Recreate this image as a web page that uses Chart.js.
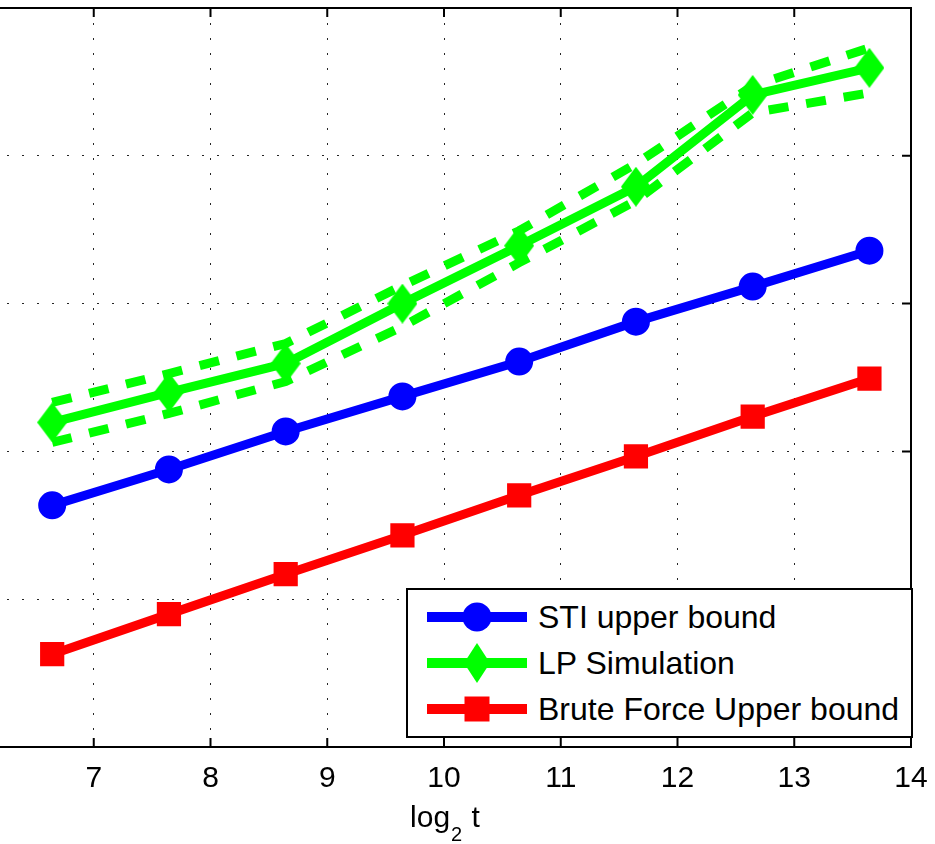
<!DOCTYPE html>
<html>
<head>
<meta charset="utf-8">
<script src="https://cdn.jsdelivr.net/npm/chart.js@4.4.1/dist/chart.umd.min.js"></script>
<style>
  html,body{margin:0;padding:0;background:#fff;overflow:hidden;width:935px;height:844px;}
  #wrap{position:absolute;left:-23px;top:0;width:958px;height:844px;}
  #legend{position:absolute;left:406px;top:588px;width:503px;height:146px;border:2px solid #000;background:#fff;
    font-family:"Liberation Sans",Arial,sans-serif;font-size:32px;color:#000;}
  .row{position:absolute;left:0;height:46px;width:100%;}
  .row canvas{position:absolute;left:0;top:0;}
  .row span{position:absolute;left:130px;top:4px;line-height:38px;white-space:nowrap;}
</style>
</head>
<body>
<div id="wrap"><canvas id="c" width="958" height="844"></canvas></div>
<div id="legend"></div>
<script>
// ---- data ----
const xValues = [6.644, 7.644, 8.644, 9.644, 10.644, 11.644, 12.644, 13.644];
const stiUpper = [1.635, 1.878, 2.135, 2.372, 2.608, 2.878, 3.115, 3.358];
const lpSim    = [2.196, 2.399, 2.595, 3.000, 3.392, 3.791, 4.412, 4.595];
const lpHigh   = [2.331, 2.527, 2.730, 3.122, 3.493, 3.946, 4.473, 4.730];
const lpLow    = [2.061, 2.257, 2.473, 2.845, 3.277, 3.696, 4.291, 4.426];
const bruteForce = [0.628, 0.899, 1.169, 1.432, 1.703, 1.966, 2.236, 2.493];
const xTickLabels = [7, 8, 9, 10, 11, 12, 13, 14];
const yTickValues = [0, 1, 2, 3, 4, 5];
const seriesNames = ['STI upper bound', 'LP Simulation', 'Brute Force Upper bound'];
const xTitle = ['log', '2', ' t'];

const BLUE = '#0000ff', GREEN = '#00ff00', RED = '#ff0000';
const FONT = '"Liberation Sans", Arial, sans-serif';

function pts(ys){ return xValues.map((x,i)=>({x:x, y:ys[i]})); }

function diamond(w, h, color){
  const c = document.createElement('canvas');
  c.width = w; c.height = h;
  const g = c.getContext('2d');
  g.fillStyle = color;
  g.beginPath();
  g.moveTo(w/2, 0); g.lineTo(w, h/2); g.lineTo(w/2, h); g.lineTo(0, h/2); g.closePath();
  g.fill();
  return c;
}
const diamondImg = diamond(30, 40, GREEN);

const frame = {
  id: 'frame',
  afterDraw(chart){
    const {ctx, chartArea:a, scales:{x, y}} = chart;
    ctx.save();
    ctx.strokeStyle = '#000';
    ctx.lineWidth = 2;
    ctx.strokeRect(a.left, a.top, a.right - a.left, a.bottom - a.top);
    ctx.beginPath();
    x.ticks.forEach(t=>{
      const px = x.getPixelForValue(t.value);
      ctx.moveTo(px, a.bottom); ctx.lineTo(px, a.bottom - 9);
      ctx.moveTo(px, a.top); ctx.lineTo(px, a.top + 9);
    });
    y.ticks.forEach(t=>{
      const py = y.getPixelForValue(t.value);
      ctx.moveTo(a.right, py); ctx.lineTo(a.right - 9, py);
      ctx.moveTo(a.left, py); ctx.lineTo(a.left + 9, py);
    });
    ctx.stroke();
    // axis title with subscript
    ctx.fillStyle = '#000';
    ctx.textBaseline = 'alphabetic';
    const big = '30px ' + FONT, small = '20px ' + FONT;
    ctx.font = big; const w1 = ctx.measureText(xTitle[0]).width;
    ctx.font = small; const w2 = ctx.measureText(xTitle[1]).width;
    ctx.font = big; const w3 = ctx.measureText(xTitle[2]).width;
    const cx = (a.left + a.right) / 2;
    let sx = cx - (w1 + w2 + w3) / 2;
    const base = a.bottom + 80;
    ctx.font = big; ctx.fillText(xTitle[0], sx, base);
    ctx.font = small; ctx.fillText(xTitle[1], sx + w1 + 1, base + 14);
    ctx.font = big; ctx.fillText(xTitle[2], sx + w1 + w2 + 2, base);
    ctx.restore();
  }
};

const gridCommon = {color:'rgba(0,0,0,0.85)', lineWidth:1, drawTicks:false};

const chart = new Chart(document.getElementById('c'), {
  type: 'line',
  data: {
    datasets: [
      {label:'lpHigh', data:pts(lpHigh), borderColor:GREEN, borderWidth:9, borderDash:[20,18], pointRadius:0, tension:0, order:5, borderCapStyle:'butt'},
      {label:'lpLow', data:pts(lpLow), borderColor:GREEN, borderWidth:9, borderDash:[20,18], pointRadius:0, tension:0, order:4, borderCapStyle:'butt'},
      {label:seriesNames[0], data:pts(stiUpper), borderColor:BLUE, backgroundColor:BLUE, borderWidth:9, pointStyle:'circle', pointRadius:12, pointBorderWidth:4, tension:0, order:3},
      {label:seriesNames[1], data:pts(lpSim), borderColor:GREEN, backgroundColor:GREEN, borderWidth:9, pointStyle:diamondImg, pointRadius:15, tension:0, order:2},
      {label:seriesNames[2], data:pts(bruteForce), borderColor:RED, backgroundColor:RED, borderWidth:9, pointStyle:'rect', pointRadius:15, pointBorderWidth:3, tension:0, order:1}
    ]
  },
  options: {
    responsive:false,
    devicePixelRatio:1,
    animation:false,
    layout:{autoPadding:false, padding:{top:8, right:24, left:0, bottom:0}},
    plugins:{legend:{display:false}, tooltip:{enabled:false}},
    scales:{
      x:{
        type:'linear', min:6, max:14,
        afterBuildTicks:(s)=>{ s.ticks = xTickLabels.map(v=>({value:v})); },
        afterFit:(s)=>{ s.height = 97; s.paddingLeft = 0; s.paddingRight = 0; },
        ticks:{padding:14, color:'#000', font:{family:FONT, size:30}, maxRotation:0, autoSkip:false},
        grid:gridCommon,
        border:{display:false, dash:[2,13]}
      },
      y:{
        type:'linear', min:0, max:5,
        afterBuildTicks:(s)=>{ s.ticks = yTickValues.map(v=>({value:v})); },
        afterFit:(s)=>{ s.width = 0; s.paddingTop = 0; s.paddingBottom = 0; },
        ticks:{display:false},
        grid:gridCommon,
        border:{display:false, dash:[2,13]}
      }
    }
  },
  plugins:[frame]
});

// ---- legend (HTML) ----
const legend = document.getElementById('legend');
const legColors = [BLUE, GREEN, RED];
const legMarkers = ['circle', 'diamond', 'square'];
const rowTops = [4, 50, 96];
seriesNames.forEach((name, i)=>{
  const row = document.createElement('div');
  row.className = 'row';
  row.style.top = rowTops[i] + 'px';
  const cv = document.createElement('canvas');
  cv.width = 125; cv.height = 46;
  const g = cv.getContext('2d');
  g.fillStyle = legColors[i];
  g.fillRect(19, 18, 100, 10);
  const mx = 69, my = 23;
  g.beginPath();
  if (legMarkers[i] === 'circle') { g.arc(mx, my, 14.5, 0, Math.PI*2); }
  else if (legMarkers[i] === 'diamond') { g.moveTo(mx, my-20); g.lineTo(mx+13, my); g.lineTo(mx, my+20); g.lineTo(mx-13, my); g.closePath(); }
  else { g.rect(mx-12.5, my-12.5, 25, 25); }
  g.fill();
  row.appendChild(cv);
  const sp = document.createElement('span');
  sp.textContent = name;
  row.appendChild(sp);
  legend.appendChild(row);
});
</script>
</body>
</html>
